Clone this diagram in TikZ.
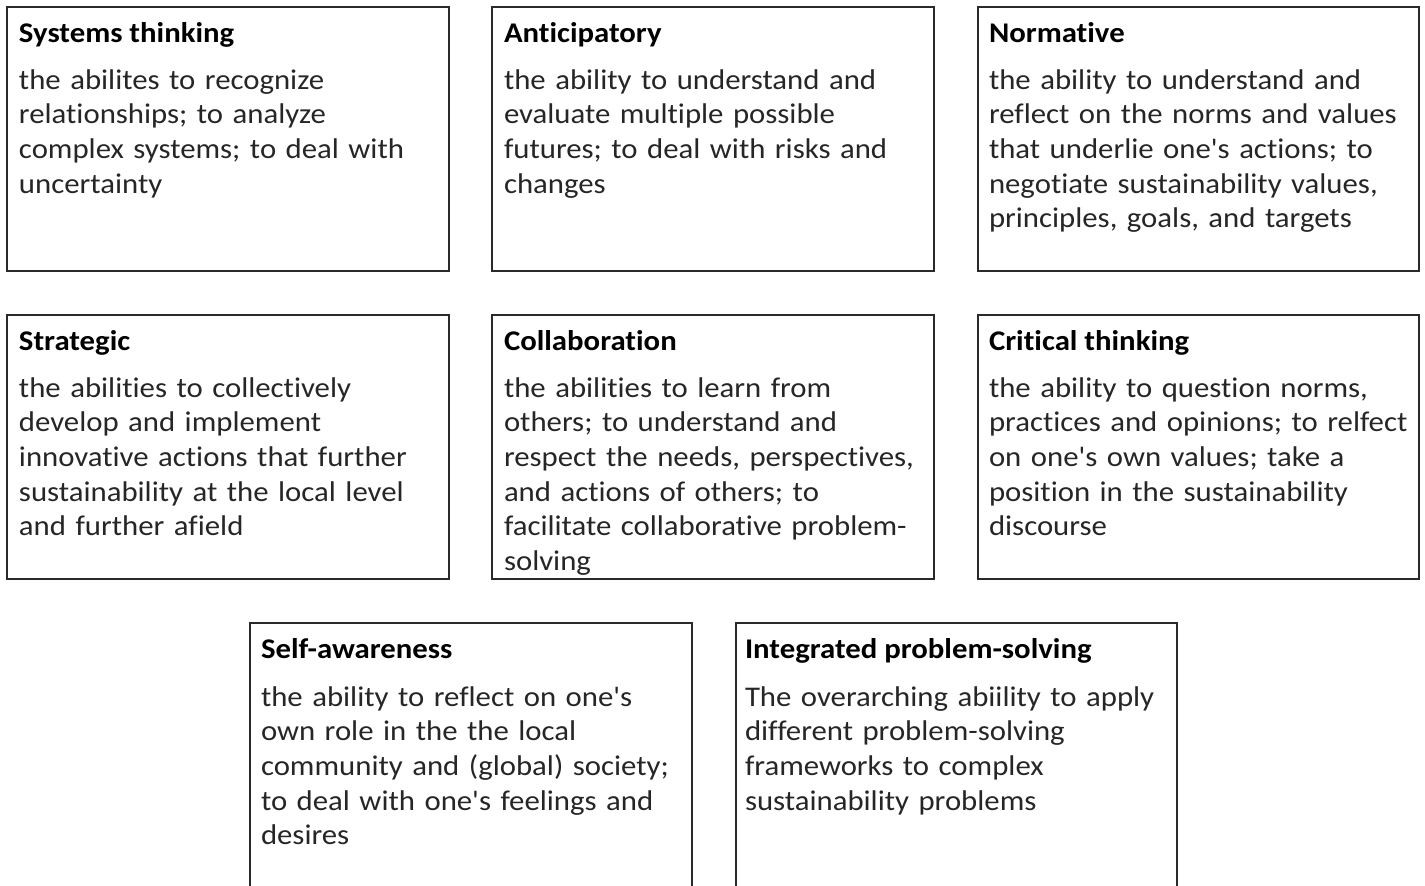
\documentclass[tikz,border=0pt]{standalone}
\usepackage{fontspec}
\setmainfont{Carlito}[FakeStretch=1.08, Ligatures={CommonOff,TeXOff}]
\usetikzlibrary{calc}
\definecolor{boxline}{HTML}{2A2A2A}
\definecolor{bodytext}{HTML}{262626}
\tikzset{
  box/.style={draw=boxline, line width=2.2pt, minimum width=442pt, minimum height=264pt, inner sep=0pt, outer sep=0pt, fill=white},
  ttl/.style={anchor=base west, inner sep=0pt, outer sep=0pt, font=\fontsize{28.5}{34.7}\selectfont\bfseries, text=black},
  body/.style={anchor=base west, inner sep=0pt, outer sep=0pt, text width=425pt, align=left, font=\fontsize{28.5}{34.7}\selectfont, text=bodytext},
}
\begin{document}
\begin{tikzpicture}[x=1pt,y=-1pt]
\clip (0,0) rectangle (1425,886);
\fill[white] (0,0) rectangle (1425,886);
% row 1
\node[box] (b1) at (228,139) {};
\node[box, minimum width=442pt] (b2) at (713,139) {};
\node[box, minimum width=441pt] (b3) at (1198.5,139) {};
% row 2
\node[box] (b4) at (228,447) {};
\node[box] (b5) at (713,447) {};
\node[box, minimum width=441pt] (b6) at (1198.5,447) {};
% row 3 (cut off at bottom)
\node[box, minimum height=290pt] (b7) at (471,768) {};
\node[box, minimum width=441pt, minimum height=290pt] (b8) at (956.5,768) {};

\node[ttl] (t1) at ($(b1.north west)+(12,35)$) {Systems thinking};
\node[body] (d1) at ($(b1.north west)+(12,82)$) {the abilites to recognize\\relationships; to analyze\\complex systems; to deal with\\uncertainty};

\node[ttl] (t2) at ($(b2.north west)+(12,35)$) {Anticipatory};
\node[body] (d2) at ($(b2.north west)+(12,82)$) {the ability to understand and\\evaluate multiple possible\\futures; to deal with risks and\\changes};

\node[ttl] (t3) at ($(b3.north west)+(11,35)$) {Normative};
\node[body] (d3) at ($(b3.north west)+(11,82)$) {the ability to understand and\\reflect on the norms and values\\that underlie one's actions; to\\negotiate sustainability values,\\principles, goals, and targets};

\node[ttl] (t4) at ($(b4.north west)+(12,35)$) {Strategic};
\node[body] (d4) at ($(b4.north west)+(12,82)$) {the abilities to collectively\\develop and implement\\innovative actions that further\\sustainability at the local level\\and further afield};

\node[ttl] (t5) at ($(b5.north west)+(12,35)$) {Collaboration};
\node[body] (d5) at ($(b5.north west)+(12,82)$) {the abilities to learn from\\others; to understand and\\respect the needs, perspectives,\\and actions of others; to\\facilitate collaborative problem-\\solving};

\node[ttl] (t6) at ($(b6.north west)+(11,35)$) {Critical thinking};
\node[body] (d6) at ($(b6.north west)+(11,82)$) {the ability to question norms,\\practices and opinions; to relfect\\on one's own values; take a\\position in the sustainability\\discourse};

\node[ttl] (t7) at ($(b7.north west)+(11,35)$) {Self-awareness};
\node[body] (d7) at ($(b7.north west)+(11,83)$) {the ability to reflect on one's\\own role in the the local\\community and (global) society;\\to deal with one's feelings and\\desires};

\node[ttl] (t8) at ($(b8.north west)+(9,35)$) {Integrated problem-solving};
\node[body] (d8) at ($(b8.north west)+(9,83)$) {The overarching abiility to apply\\different problem-solving\\frameworks to complex\\sustainability problems};
\end{tikzpicture}
\end{document}
